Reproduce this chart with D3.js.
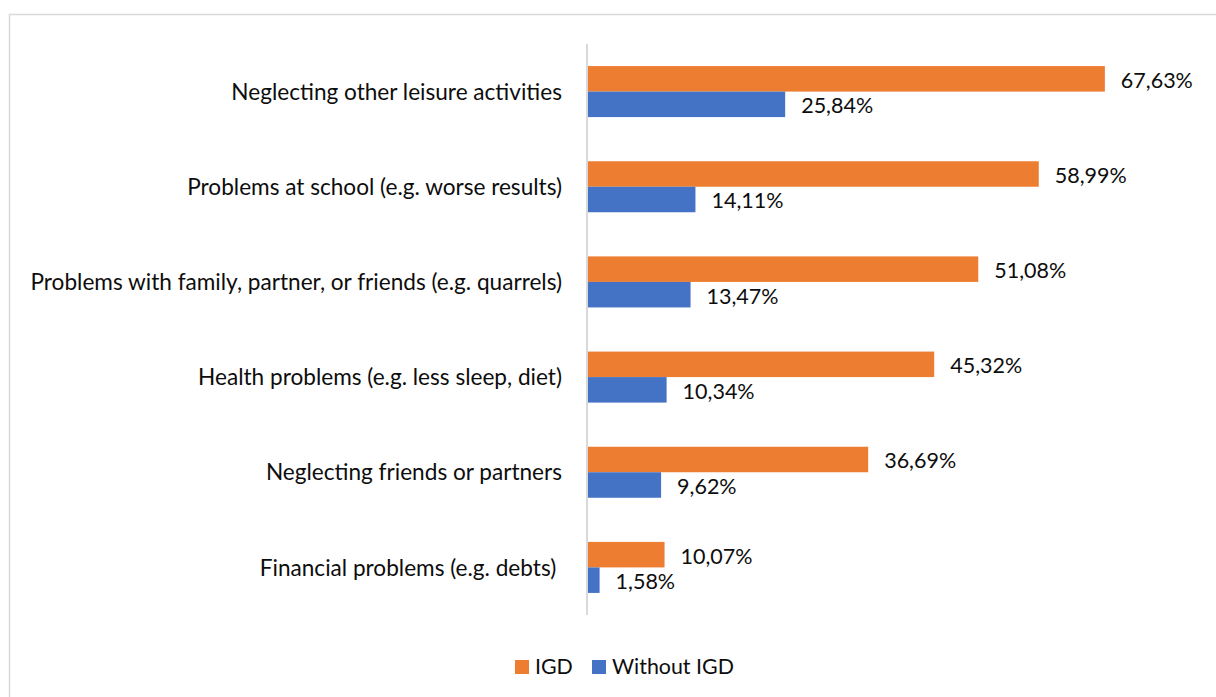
<!DOCTYPE html>
<html>
<head>
<meta charset="utf-8">
<style>
body { margin: 0; background: #fff; }
text { font-family: Lato, "Open Sans", sans-serif; fill: #0d0d0d; white-space: pre; }
</style>
</head>
<body>
<script src="https://cdn.jsdelivr.net/npm/d3@7"></script>
<script>

var categories = [
  "Neglecting other leisure activities",
  "Problems at school (e.g. worse results)",
  "Problems with family, partner, or friends (e.g. quarrels)",
  "Health problems (e.g. less sleep, diet)",
  "Neglecting friends or partners",
  "Financial problems (e.g. debts) "
];
var series = ["IGD", "Without IGD"];
var igd = [67.63, 58.99, 51.08, 45.32, 36.69, 10.07];
var withoutIgd = [25.84, 14.11, 13.47, 10.34, 9.62, 1.58];
var colors = ["#ed7d31", "#4472c4"];

var width = 1216, height = 697;

var svg = d3.select("body").append("svg")
    .attr("width", width)
    .attr("height", height);

// chart frame (only top/left visible in the crop)
svg.append("rect")
    .attr("x", 9.5).attr("y", 14.5)
    .attr("width", 1220).attr("height", 700)
    .attr("fill", "none")
    .attr("stroke", "#d9d9d9")
    .attr("stroke-width", 1.5);

var y0 = d3.scaleBand()
    .domain(categories)
    .range([44, 615])
    .paddingInner(0.464)
    .paddingOuter(0.232);

var y1 = d3.scaleBand()
    .domain(series)
    .range([0, y0.bandwidth()]);

var x = d3.scaleLinear()
    .domain([0, 80])
    .range([587.5, 587.5 + 80 * 7.65]);

var rows = categories.map(function(c, i) {
  return { cat: c, values: [
    { s: series[0], v: igd[i] },
    { s: series[1], v: withoutIgd[i] }
  ]};
});

var group = svg.append("g").selectAll("g")
    .data(rows)
    .enter().append("g")
    .attr("transform", function(d) { return "translate(0," + y0(d.cat) + ")"; });

group.selectAll("rect")
    .data(function(d) { return d.values; })
    .enter().append("rect")
    .attr("x", x(0))
    .attr("y", function(d) { return y1(d.s); })
    .attr("width", function(d) { return x(d.v) - x(0); })
    .attr("height", y1.bandwidth())
    .attr("fill", function(d, i) { return colors[i]; });

group.selectAll("text.val")
    .data(function(d) { return d.values; })
    .enter().append("text")
    .attr("class", "val")
    .attr("x", function(d) { return x(d.v) + 16; })
    .attr("y", function(d) { return y1(d.s) + y1.bandwidth() / 2 + 3.5; })
    .attr("dominant-baseline", "middle")
    .style("font-size", "21.5px")
    .text(function(d) { return d.v.toFixed(2).replace(".", ",") + "%"; });

// category labels
svg.append("g").selectAll("text")
    .data(categories)
    .enter().append("text")
    .attr("x", 562)
    .attr("y", function(d) { return y0(d) + y0.bandwidth() / 2 + 2.5; })
    .attr("text-anchor", "end")
    .attr("dominant-baseline", "middle")
    .style("font-size", "22.6px")
    .text(function(d) { return d; });

// axis line
svg.append("line")
    .attr("x1", x(0) - 0.5).attr("x2", x(0) - 0.5)
    .attr("y1", 44).attr("y2", 615)
    .attr("stroke", "#d9d9d9")
    .attr("stroke-width", 2);

// legend
var legendX = [515, 592];
var legend = svg.append("g").selectAll("g")
    .data(series)
    .enter().append("g")
    .attr("transform", function(d, i) { return "translate(" + legendX[i] + ",660)"; });

legend.append("rect")
    .attr("width", 14).attr("height", 14)
    .attr("fill", function(d, i) { return colors[i]; });

legend.append("text")
    .attr("x", 20).attr("y", 8.5)
    .attr("dominant-baseline", "middle")
    .style("font-size", "21.4px")
    .text(function(d) { return d; });

</script>
</body>
</html>
